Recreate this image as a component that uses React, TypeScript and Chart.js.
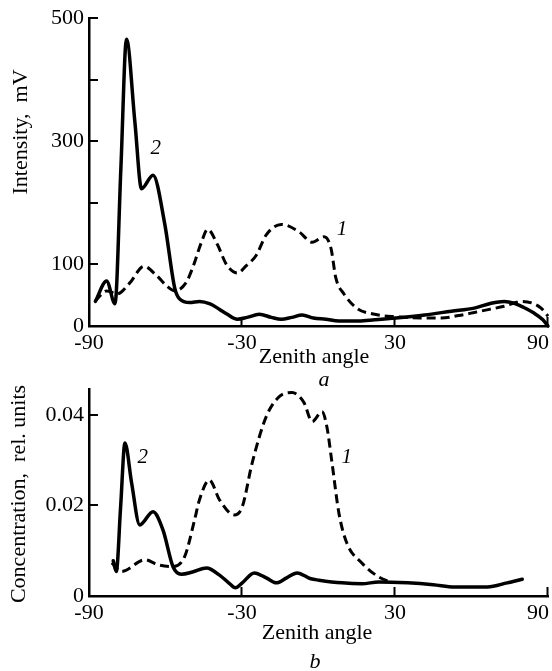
import React, { useEffect, useRef } from 'react';
import { Chart, registerables } from 'chart.js';

Chart.register(...registerables);

const SERIF = '"Liberation Serif", "Times New Roman", Times, serif';

// ---- axis ticks ----
const angleTicks = [-90, -30, 30, 90];
const intensityTicks = [0, 100, 200, 300, 400, 500];
const intensityTickLabels = ['0', '100', '', '300', '', '500'];
const concTicks = [0, 0.02, 0.04];
const concTickLabels = ['0', '0.02', '0.04'];

// ---- panel a: intensity, mV ----
const angleA2 = [-87.5, -83.1, -79.8, -77.5, -75.3, -72.0, -69.4, -64.9, -60.3, -56.4, -54.5, -50.5, -46.7, -42.5, -38.8, -36.1, -31.8, -28.0, -23.2, -18.5, -14.6, -10.5, -6.4, -2.0, 2.9, 8.0, 15.8, 22.0, 30.3, 41.6, 52.1, 61.1, 67.7, 72.8, 76.7, 80.5, 84.5, 88.0, 90.0];
const intensity2 = [40, 73, 36, 256, 466, 331, 223, 245, 166, 62, 44, 38, 40, 36, 27, 20, 11, 14, 19, 14, 11, 14, 18, 13, 11, 8, 8, 10, 13, 18, 24, 29, 37, 40, 37, 30, 21, 10, 0];

const angleA1 = [-87.7, -83.0, -79.0, -74.0, -68.5, -63.5, -59.5, -56.4, -52.0, -49.4, -46.0, -43.5, -39.6, -36.1, -31.8, -28.3, -24.4, -20.5, -14.6, -7.6, -2.5, 2.2, 4.9, 6.8, 10.0, 15.0, 22.0, 30.3, 40.0, 48.2, 55.0, 61.1, 67.0, 72.8, 79.9, 84.0, 87.3, 90.0];
const intensity1 = [40, 57, 52, 70, 97, 82, 65, 57, 70, 94, 135, 157, 132, 100, 86, 98, 115, 148, 165, 153, 136, 145, 126, 78, 52, 29, 19, 15, 13, 13, 17, 22, 27, 32, 40, 37, 29, 16];

// ---- panel b: concentration, rel. units ----
const angleB2 = [-80.5, -79.3, -77.6, -75.9, -73.3, -70.1, -64.9, -61.0, -57.0, -53.8, -49.4, -43.9, -38.8, -35.0, -32.6, -29.9, -25.2, -20.5, -16.6, -12.5, -8.4, -3.0, 0.2, 9.2, 17.0, 23.6, 35.0, 45.0, 53.3, 66.2, 74.0, 79.9];
const conc2 = [0.0078, 0.0054, 0.0197, 0.0338, 0.025, 0.0157, 0.0186, 0.0146, 0.0064, 0.0048, 0.0053, 0.0062, 0.0046, 0.0028, 0.0018, 0.0029, 0.0051, 0.004, 0.0029, 0.004, 0.0051, 0.0038, 0.0035, 0.0029, 0.0027, 0.0031, 0.0029, 0.0025, 0.002, 0.002, 0.0029, 0.0037];

const angleB1 = [-81.1, -77.2, -68.1, -63.0, -57.7, -52.5, -48.6, -46.7, -42.8, -38.8, -33.0, -29.9, -26.0, -20.5, -15.4, -10.4, -5.7, -2.5, 1.4, 3.3, 5.3, 8.0, 11.1, 17.0, 23.6, 29.0];
const conc1 = [0.0073, 0.0054, 0.008, 0.0069, 0.0065, 0.0087, 0.0168, 0.0212, 0.0256, 0.0212, 0.0179, 0.0197, 0.0294, 0.0396, 0.044, 0.0449, 0.0427, 0.0385, 0.0407, 0.0373, 0.0294, 0.0183, 0.0117, 0.0073, 0.0042, 0.0029];

type CurveLabel = { text: string; x: number; y: number };

type PanelSpec = {
  height: number;
  areaTop: number;
  areaBottom: number;
  yMax: number;
  yTicks: number[];
  yTickLabels: string[];
  yTitle: string;
  yTitlePos: [number, number];
  xTitlePos: [number, number];
  caption: string;
  captionPos: [number, number];
  solid: { x: number[]; y: number[] };
  dashed: { x: number[]; y: number[] };
  labels: CurveLabel[];
};

function toPoints(xs: number[], ys: number[]) {
  return xs.map((x, i) => ({ x, y: ys[i] }));
}

function buildConfig(spec: PanelSpec): any {
  const decor = {
    id: 'decor',
    afterDraw(chart: any) {
      const { ctx, chartArea } = chart;
      const xs = chart.scales.x;
      const ys = chart.scales.y;
      ctx.save();
      ctx.strokeStyle = '#000';
      ctx.lineWidth = 2;
      ctx.beginPath();
      angleTicks.forEach((v) => {
        if (v === -90) return;
        const px = Math.round(xs.getPixelForValue(v)) - 0.5;
        ctx.moveTo(px, chartArea.bottom);
        ctx.lineTo(px, chartArea.bottom - 9);
      });
      spec.yTicks.forEach((v) => {
        if (v === 0) return;
        const py = Math.round(ys.getPixelForValue(v));
        ctx.moveTo(chartArea.left, py);
        ctx.lineTo(chartArea.left + 9, py);
      });
      ctx.stroke();

      ctx.fillStyle = '#000';
      // last x tick label, kept inside the frame
      let labelY = chartArea.bottom + 5 + 13;
      let baseline: any = 'middle';
      try {
        const items = xs.getLabelItems(chartArea);
        const it = items[1];
        if (it) {
          labelY = it.options.translation[1] + it.textOffset;
          baseline = it.options.textBaseline;
        }
      } catch (e) {}
      ctx.font = `22px ${SERIF}`;
      ctx.textAlign = 'right';
      ctx.textBaseline = baseline;
      ctx.fillText('90', chartArea.right + 1, labelY);

      // axis titles
      ctx.textAlign = 'center';
      ctx.textBaseline = 'middle';
      ctx.fillText('Zenith angle', spec.xTitlePos[0], spec.xTitlePos[1]);
      ctx.save();
      ctx.translate(spec.yTitlePos[0], spec.yTitlePos[1]);
      ctx.rotate(-Math.PI / 2);
      ctx.fillText(spec.yTitle, 0, 0);
      ctx.restore();

      // caption
      ctx.font = `italic 22px ${SERIF}`;
      ctx.fillText(spec.caption, spec.captionPos[0], spec.captionPos[1]);

      // curve labels
      ctx.font = `italic 21px ${SERIF}`;
      spec.labels.forEach((l) => {
        ctx.fillText(l.text, xs.getPixelForValue(l.x), ys.getPixelForValue(l.y));
      });
      ctx.restore();
    },
  };

  return {
    type: 'line',
    data: {
      datasets: [
        {
          label: '2',
          data: toPoints(spec.solid.x, spec.solid.y),
          borderColor: '#000',
          borderWidth: 3.5,
          pointRadius: 0,
          fill: false,
          cubicInterpolationMode: 'monotone',
          borderJoinStyle: 'round',
          borderCapStyle: 'round',
          clip: false,
        },
        {
          label: '1',
          data: toPoints(spec.dashed.x, spec.dashed.y),
          borderColor: '#000',
          borderWidth: 3,
          borderDash: [9, 5],
          pointRadius: 0,
          fill: false,
          cubicInterpolationMode: 'monotone',
          borderJoinStyle: 'round',
          clip: false,
        },
      ],
    },
    options: {
      responsive: false,
      animation: false,
      devicePixelRatio: 1,
      layout: { padding: { top: spec.areaTop, right: 2, left: 0, bottom: 0 } },
      plugins: { legend: { display: false }, tooltip: { enabled: false } },
      scales: {
        x: {
          type: 'linear',
          min: -90,
          max: 90,
          afterBuildTicks: (scale: any) => {
            scale.ticks = angleTicks.map((v) => ({ value: v }));
          },
          afterFit: (scale: any) => {
            scale.height = spec.height - spec.areaBottom;
          },
          grid: { display: false, drawTicks: false },
          border: { display: true, color: '#000', width: 2.5 },
          ticks: {
            autoSkip: false,
            maxRotation: 0,
            padding: 4,
            color: '#000',
            font: { family: SERIF, size: 22 },
            callback: (v: number) => (v === 90 ? '' : String(v)),
          },
        },
        y: {
          type: 'linear',
          min: 0,
          max: spec.yMax,
          afterBuildTicks: (scale: any) => {
            scale.ticks = spec.yTicks.map((v) => ({ value: v }));
          },
          afterFit: (scale: any) => {
            scale.width = 89;
          },
          grid: { display: false, drawTicks: false },
          border: { display: true, color: '#000', width: 2.5 },
          ticks: {
            autoSkip: false,
            padding: 5,
            color: '#000',
            font: { family: SERIF, size: 22 },
            callback: (_v: number, i: number) => spec.yTickLabels[i],
          },
        },
      },
    },
    plugins: [decor],
  };
}

const panelA: PanelSpec = {
  height: 395,
  areaTop: 15,
  areaBottom: 326,
  yMax: 500,
  yTicks: intensityTicks,
  yTickLabels: intensityTickLabels,
  yTitle: 'Intensity,  mV',
  yTitlePos: [21, 132],
  xTitlePos: [314, 357],
  caption: 'a',
  captionPos: [324, 380],
  solid: { x: angleA2, y: intensity2 },
  dashed: { x: angleA1, y: intensity1 },
  labels: [
    { text: '2', x: -63.8, y: 288 },
    { text: '1', x: 9.2, y: 157 },
  ],
};

const panelB: PanelSpec = {
  height: 301,
  areaTop: 19,
  areaBottom: 226,
  yMax: 0.0457,
  yTicks: concTicks,
  yTickLabels: concTickLabels,
  yTitle: 'Concentration,  rel. units',
  yTitlePos: [19, 124],
  xTitlePos: [317, 263],
  caption: 'b',
  captionPos: [315, 292],
  solid: { x: angleB2, y: conc2 },
  dashed: { x: angleB1, y: conc1 },
  labels: [
    { text: '2', x: -68.9, y: 0.0305 },
    { text: '1', x: 11.1, y: 0.0305 },
  ],
};

function Panel({ spec, top }: { spec: PanelSpec; top: number }) {
  const ref = useRef<HTMLCanvasElement>(null);
  useEffect(() => {
    const chart = new Chart(ref.current as HTMLCanvasElement, buildConfig(spec));
    return () => chart.destroy();
  }, [spec]);
  return (
    <canvas
      ref={ref}
      width={552}
      height={spec.height}
      style={{ position: 'absolute', left: 0, top, width: 552, height: spec.height }}
    />
  );
}

export default function App() {
  return (
    <div
      style={{
        position: 'absolute',
        left: 0,
        top: 0,
        width: 552,
        height: 671,
        background: '#fff',
        overflow: 'hidden',
      }}
    >
      <Panel spec={panelA} top={0} />
      <Panel spec={panelB} top={370} />
    </div>
  );
}
